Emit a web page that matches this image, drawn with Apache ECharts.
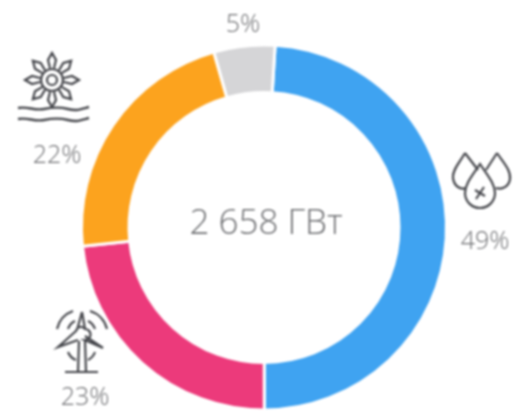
<!DOCTYPE html>
<html><head><meta charset="utf-8">
<style>html,body{margin:0;background:#fff}#c{width:526px;height:418px;filter:blur(.85px)}</style>
<script src="https://cdn.jsdelivr.net/npm/echarts@6/dist/echarts.min.js"></script>
</head><body><div id="c"></div>
<script>
const categories = ['Гидро-углеводороды', 'Ветер', 'Солнце и вода', 'Прочее'];
const shares = [49, 23.4, 22.2, 5.4];
const colors = ['#3fa3f1', '#ec3a7b', '#fca31e', '#d5d5d7'];
const totalText = '2 658 ГВт';

const ink = '#45464b', txt = '#6e6f72', font = '"Open Sans", sans-serif';
const labelAt = [[485, 242], [85, 398], [57, 156], [243, 25]];

function wheel() {
  const cx = 52, cy = 80; let d = '';
  const circ = (x, y, r) => `M${x - r} ${y}A${r} ${r} 0 1 0 ${x + r} ${y}A${r} ${r} 0 1 0 ${x - r} ${y}`;
  d += circ(cx, cy, 11) + circ(cx, cy, 5);
  for (let i = 0; i < 8; i++) {
    const a = i * Math.PI / 4, ux = Math.cos(a), uy = Math.sin(a), px = -uy, py = ux;
    const P = (r, s) => `${(cx + ux * r + px * s).toFixed(1)} ${(cy + uy * r + py * s).toFixed(1)}`;
    d += `M${P(12, -2)}L${P(20, -4)}L${P(27, 0)}L${P(20, 4)}L${P(12, 2)}`;
  }
  return d;
}
const icons = [
  { d: wheel(), w: 2.2 },
  { d: 'M18 108C28 106 34 111 44 109S60 107 68 109S78 110 89 107M18 119C28 117 34 122 44 120S60 118 68 120S78 121 89 118', w: 2.4 },
  { d: 'M465 153C460 162 452 170 453 178C454 186 460 190 466 188M465 153L478 170M497 153C503 162 511 170 510 179C509 186 503 190 496 188M497 153L486 170M480 164C472 176 465 184 465 193A15 15 0 0 0 495 193C495 184 488 176 480 164ZM476 199L484 187M475 190L485 196', w: 2.2 },
  { d: 'M82 312L85 329A5 5 0 0 1 85 340L103 348L85 336M78 340L58 347L76 331A5 5 0 0 1 85 329M82 312L77 330M79 341L78 372M85 341L86 372M65 372L98 372M57 329A25 25 0 0 1 73 311M90 311A25 25 0 0 1 107 329M68 329A14 14 0 0 1 75 321M88 321A14 14 0 0 1 95 329M68 352A14 14 0 0 0 76 360M95 352A14 14 0 0 1 88 360', w: 2.2 }
];
icons.forEach((ic, i) => echarts.graphic.registerShape('icon' + i, echarts.graphic.extendPath(ic.d, {})));

const chart = echarts.init(document.getElementById('c'), null, { renderer: 'canvas' });
chart.setOption({
  animation: false,
  color: colors,
  series: [{
    type: 'pie',
    center: [264, 227.5],
    radius: [135, 182.5],
    startAngle: 86.5,
    clockwise: true,
    silent: true,
    itemStyle: { borderColor: '#fff', borderWidth: 3 },
    label: {
      show: true, position: 'outside', color: txt, fontFamily: font, fontSize: 25, fontWeight: 300,
      overflow: 'none', width: 80, align: 'center',
      formatter: p => Math.round(p.value) + '%'
    },
    labelLine: { show: false },
    labelLayout: p => ({ x: labelAt[p.dataIndex][0], y: labelAt[p.dataIndex][1], align: 'center', verticalAlign: 'middle', width: 80 }),
    data: categories.map((name, i) => ({ name, value: shares[i] }))
  }],
  graphic: [
    { type: 'text', x: 266, y: 224, style: { text: totalText, fill: txt, font: '300 35px ' + font, align: 'center', verticalAlign: 'middle' } },
    ...icons.map((ic, i) => ({
      type: 'icon' + i,
      style: { fill: 'none', stroke: ink, lineWidth: ic.w }
    }))
  ]
});
</script></body></html>
